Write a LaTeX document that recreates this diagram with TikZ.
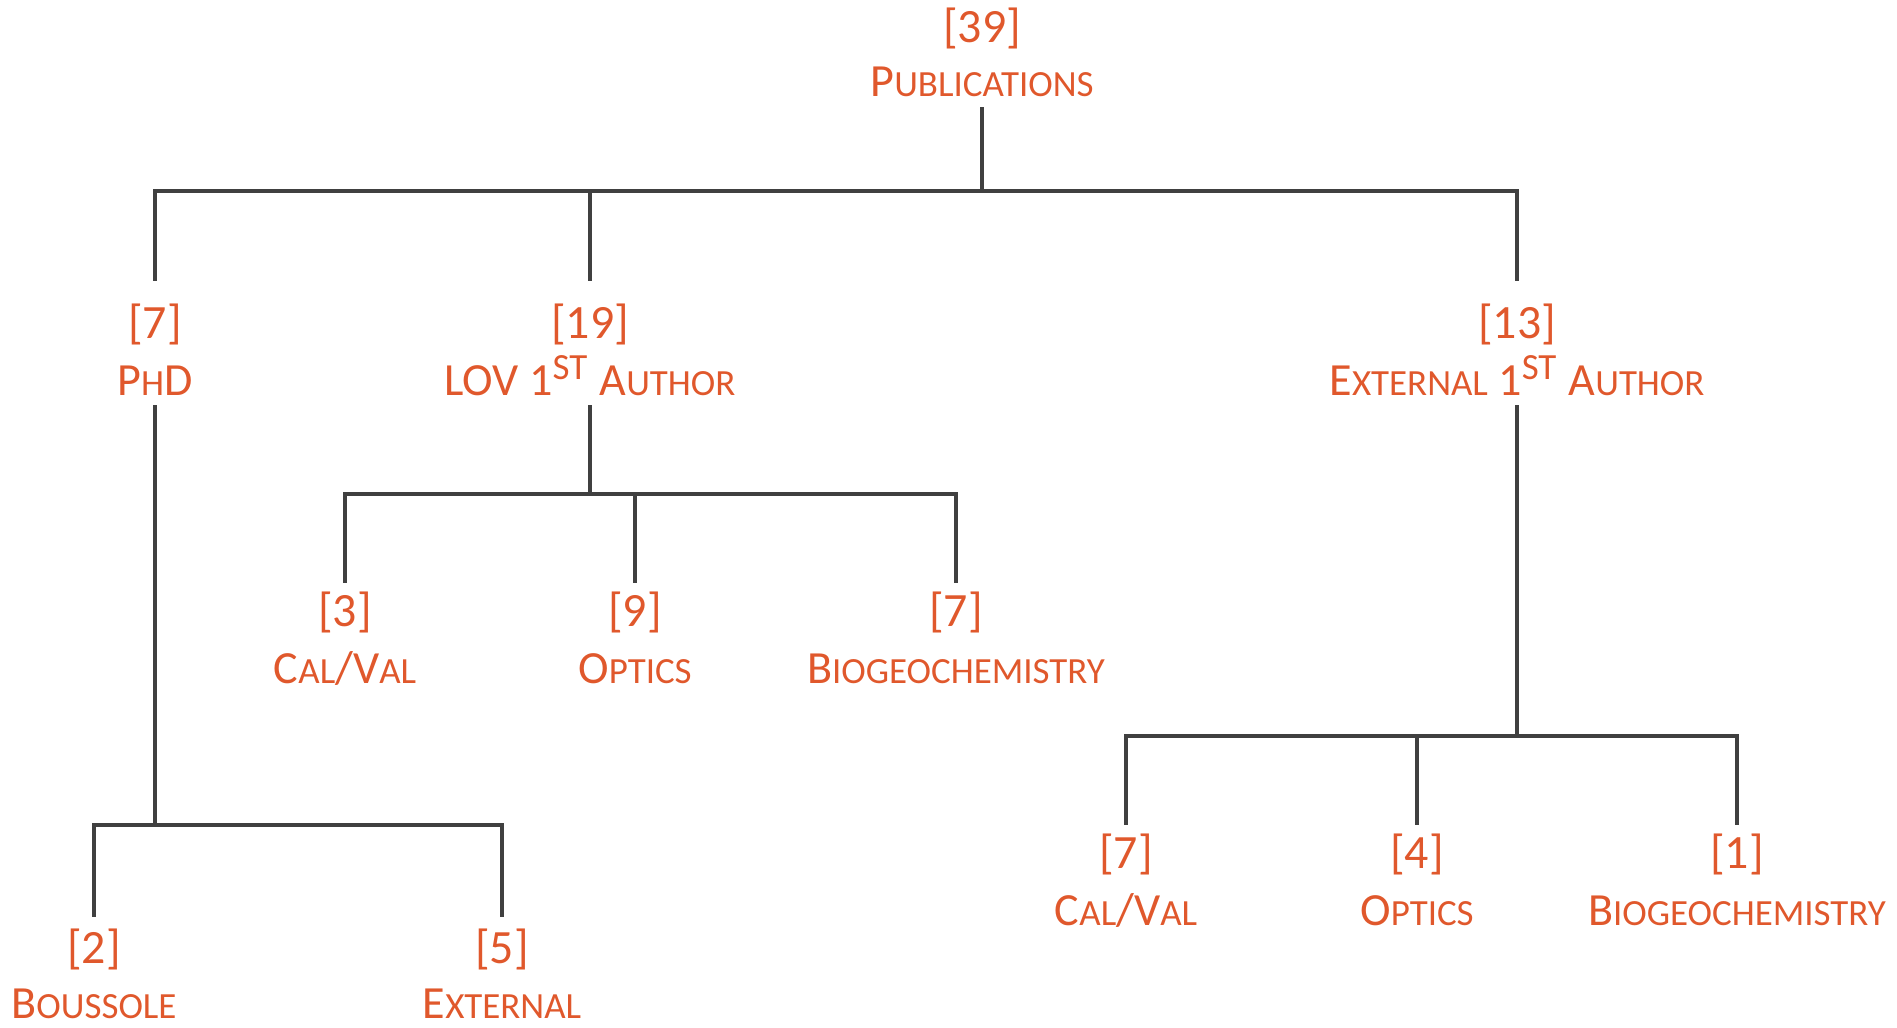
\documentclass[tikz,border=0pt]{standalone}
\usepackage{fontspec}
\setmainfont{Carlito}
\usetikzlibrary{positioning}
\definecolor{pubred}{RGB}{224,88,44}
\definecolor{treegray}{RGB}{64,64,64}
\newcommand{\numfont}{\fontsize{13.6}{16}\selectfont}
\newcommand{\lblfont}{\fontsize{13.1}{15}\selectfont}
\newcommand{\sml}[1]{{\fontsize{10.5}{12}\selectfont #1}}
\tikzset{
  count/.style={anchor=base,inner sep=0pt,outer ysep=0.08cm,text=pubred,font=\numfont},
  label/.style={anchor=base,inner sep=0pt,outer ysep=0.1cm,text depth=0pt,text=pubred,font=\lblfont},
  link/.style={draw=treegray,line width=1.15pt}
}

\begin{document}
\begin{tikzpicture}[x=0.01cm,y=-0.01cm]
\useasboundingbox (0,0) rectangle (1897,1027);
\node(A) at (982,42) [count]{[39]};
\node(a) at (982,97) [label]{P\sml{UBLICATIONS}};
\node(B) at (155,338) [count,outer ysep=0.22cm]{[7]};
\node(b) at (155,395) [label]{P\sml{H}D};
\node(C) at (590,338) [count,outer ysep=0.22cm]{[19]};
\node(c) at (590,395) [label]{LOV 1\textsuperscript{\sml{ST}} A\sml{UTHOR}};
\node(D) at (1517,338) [count,outer ysep=0.22cm]{[13]};
\node(d) at (1517,395) [label]{E\sml{XTERNAL} 1\textsuperscript{\sml{ST}} A\sml{UTHOR}};
\node(E) at (345,626) [count]{[3]};
\node(e) at (345,683) [label]{C\sml{AL}/V\sml{AL}};
\node(F) at (635,626) [count]{[9]};
\node(f) at (635,683) [label]{O\sml{PTICS}};
\node(G) at (956,626) [count]{[7]};
\node(g) at (956,683) [label]{B\sml{IOGEOCHEMISTRY}};
\node(H) at (94,963) [count,outer ysep=0.11cm]{[2]};
\node(h) at (94,1018) [label]{B\sml{OUSSOLE}};
\node(I) at (502,963) [count,outer ysep=0.11cm]{[5]};
\node(i) at (502,1018) [label]{E\sml{XTERNAL}};
\node(J) at (1126,868) [count]{[7]};
\node(j) at (1126,925) [label]{C\sml{AL}/V\sml{AL}};
\node(K) at (1417,868) [count]{[4]};
\node(k) at (1417,925) [label]{O\sml{PTICS}};
\node(L) at (1737,868) [count]{[1]};
\node(l) at (1737,925) [label]{B\sml{IOGEOCHEMISTRY}};
\coordinate(Y1) at (0,191);
\coordinate(Y2) at (0,494);
\coordinate(Y3) at (0,825);
\coordinate(Y4) at (0,736);
\draw[link] (a.south) -- (a.south |- Y1) -| (B.north);
\draw[link] (a.south |- Y1) -| (C.north);
\draw[link] (a.south |- Y1) -| (D.north);
\draw[link] (c.south) -- (c.south |- Y2) -| (E.north);
\draw[link] (c.south |- Y2) -| (F.north);
\draw[link] (c.south |- Y2) -| (G.north);
\draw[link] (b.south) -- (b.south |- Y3) -| (H.north);
\draw[link] (b.south |- Y3) -| (I.north);
\draw[link] (d.south) -- (d.south |- Y4) -| (J.north);
\draw[link] (d.south |- Y4) -| (K.north);
\draw[link] (d.south |- Y4) -| (L.north);
\end{tikzpicture}
\end{document}
